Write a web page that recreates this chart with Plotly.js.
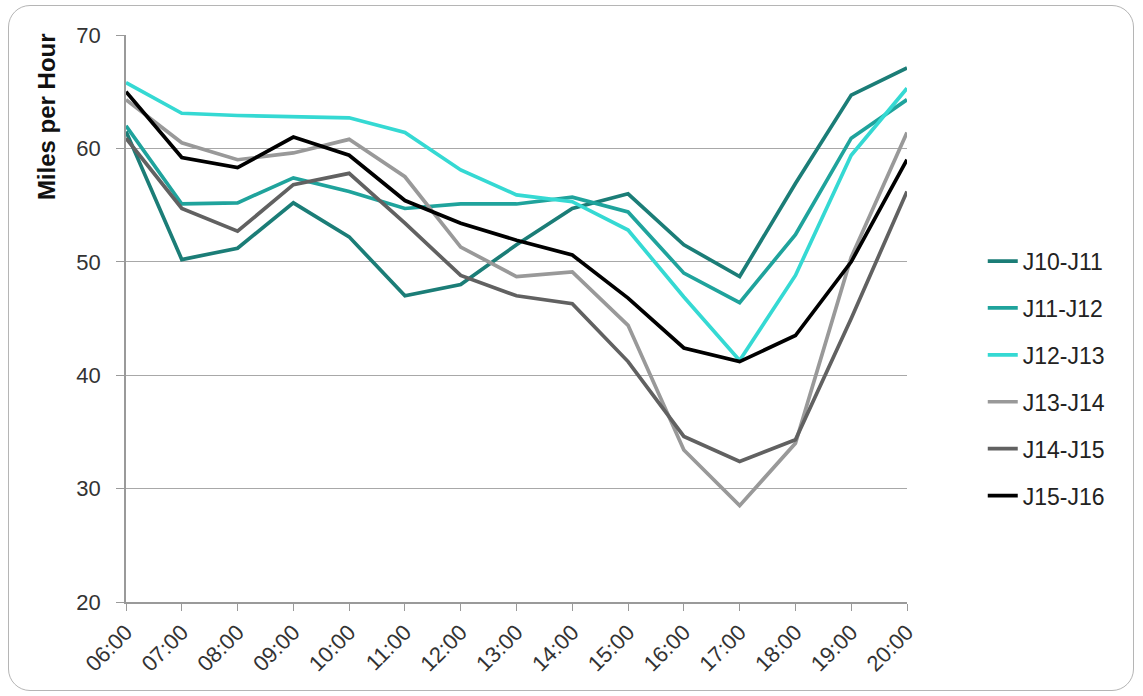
<!DOCTYPE html>
<html>
<head>
<meta charset="utf-8">
<script src="https://cdn.plot.ly/plotly-3.0.1.min.js"></script>
<style>
  body { margin: 0; background: #fff; }
  #wrap { position: relative; width: 1143px; height: 696px; }
  #chart { width: 1143px; height: 696px; }
  #frame { position: absolute; left: 8px; top: 5px; width: 1126px; height: 686px;
           border: 1px solid #b5b5b5; border-radius: 22px; pointer-events: none; box-sizing: border-box; }
</style>
</head>
<body>
<div id="wrap"><div id="chart"></div><div id="frame"></div></div>
<script>
const times = ["06:00","07:00","08:00","09:00","10:00","11:00","12:00","13:00","14:00","15:00","16:00","17:00","18:00","19:00","20:00"];
const seriesNames = ["J10-J11","J11-J12","J12-J13","J13-J14","J14-J15","J15-J16"];
const j10_j11 = [61.5, 50.2, 51.2, 55.2, 52.2, 47.0, 48.0, 51.5, 54.7, 56.0, 51.5, 48.7, 56.9, 64.7, 67.1];
const j11_j12 = [62.0, 55.1, 55.2, 57.4, 56.2, 54.7, 55.1, 55.1, 55.7, 54.4, 49.0, 46.4, 52.4, 60.9, 64.3];
const j12_j13 = [65.8, 63.1, 62.9, 62.8, 62.7, 61.4, 58.1, 55.9, 55.3, 52.8, 46.9, 41.3, 48.8, 59.4, 65.3];
const j13_j14 = [64.3, 60.5, 59.0, 59.6, 60.8, 57.5, 51.3, 48.7, 49.1, 44.4, 33.4, 28.5, 34.0, 50.4, 61.4];
const j14_j15 = [60.9, 54.7, 52.7, 56.8, 57.8, 53.4, 48.8, 47.0, 46.3, 41.2, 34.6, 32.4, 34.3, 45.0, 56.2];
const j15_j16 = [65.0, 59.2, 58.3, 61.0, 59.4, 55.4, 53.4, 51.9, 50.6, 46.8, 42.4, 41.2, 43.5, 50.0, 59.0];
const yTicks = [20, 30, 40, 50, 60, 70];

const allValues = [j10_j11, j11_j12, j12_j13, j13_j14, j14_j15, j15_j16];
const colors = ["#1b7d77", "#1fa39c", "#35d9d3", "#999999", "#616161", "#000000"];

const traces = allValues.map((vals, i) => ({
  type: "scatter",
  mode: "lines",
  name: seriesNames[i],
  x: times,
  y: vals,
  legendgroup: "g" + i,
  line: { color: colors[i], width: 3.7 },
  hoverinfo: "x+y+name"
}));

const font = "Liberation Sans, Arial, sans-serif";
const layout = {
  width: 1143,
  height: 696,
  margin: { l: 126, r: 236, t: 35, b: 94 },
  paper_bgcolor: "rgba(0,0,0,0)",
  plot_bgcolor: "#ffffff",
  font: { family: font, size: 22, color: "#333333" },
  showlegend: true,
  legend: {
    x: 1.097, xanchor: "left",
    y: 0.394, yanchor: "middle",
    font: { family: font, size: 23, color: "#222222" },
    traceorder: "grouped",
    tracegroupgap: 14,
    bgcolor: "rgba(0,0,0,0)"
  },
  xaxis: {
    type: "category",
    range: [0, times.length - 1],
    showgrid: false,
    showline: true,
    linecolor: "#9a9a9a",
    linewidth: 1.5,
    ticks: "outside",
    ticklen: 7,
    tickcolor: "#9a9a9a",
    tickangle: -45,
    tickfont: { family: font, size: 22, color: "#333333" },
    zeroline: false
  },
  yaxis: {
    range: [20, 70],
    tickvals: yTicks,
    showgrid: true,
    gridcolor: "#a8a8a8",
    gridwidth: 1.2,
    showline: true,
    linecolor: "#9a9a9a",
    linewidth: 1.5,
    ticks: "outside",
    ticklen: 8,
    tickcolor: "#9a9a9a",
    ticklabelstandoff: 11,
    tickfont: { family: font, size: 22, color: "#333333" },
    zeroline: false
  },
  annotations: [{
    text: "<b>Miles per Hour</b>",
    xref: "paper", yref: "paper",
    x: -0.1024, y: 1.006,
    xanchor: "center", yanchor: "top",
    textangle: -90,
    showarrow: false,
    font: { family: font, size: 24, color: "#111111" }
  }]
};

Plotly.newPlot("chart", traces, layout, { displayModeBar: false });
</script>
</body>
</html>
